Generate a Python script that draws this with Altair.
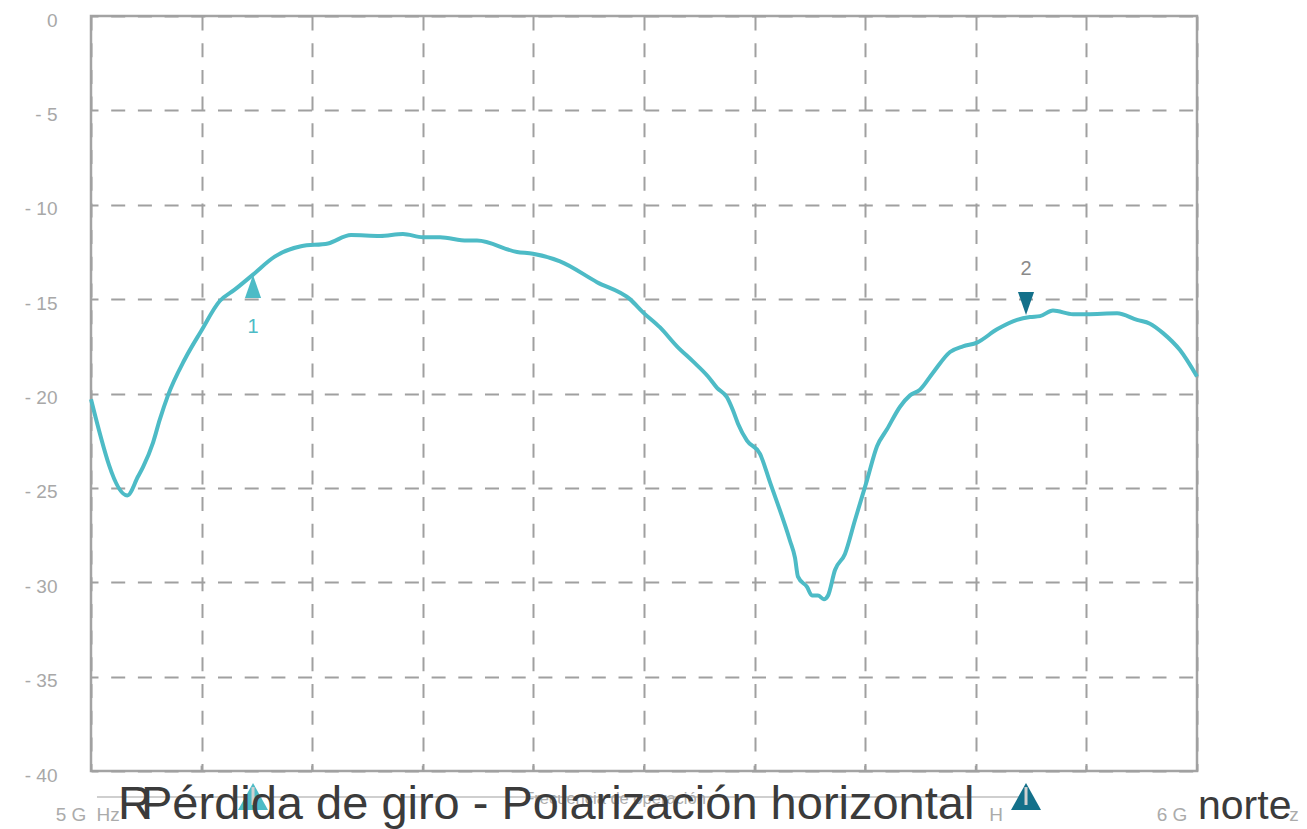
import altair as alt
import pandas as pd

# ---- main trace (GHz, dB) ----
freq = [5.0000, 5.0328, 5.0425, 5.0470, 5.0561, 5.0621, 5.0696, 5.0847, 5.0995, 5.1164,
        5.1299, 5.1465, 5.1661, 5.1899, 5.2143, 5.2351, 5.2613, 5.2821, 5.3002, 5.3156,
        5.3400, 5.3490, 5.3852, 5.3996, 5.4241, 5.4575, 5.4873, 5.4991, 5.5145, 5.5298,
        5.5443, 5.5579, 5.5660, 5.5750, 5.5805, 5.5850, 5.5931, 5.6049, 5.6139, 5.6320,
        5.6365, 5.6392, 5.6474, 5.6519, 5.6573, 5.6627, 5.6664, 5.6727, 5.6817, 5.6908,
        5.7016, 5.7107, 5.7197, 5.7315, 5.7405, 5.7495, 5.7613, 5.7767, 5.7884, 5.8011,
        5.8192, 5.8373, 5.8490, 5.8580, 5.8698, 5.8879, 5.9005, 5.9277, 5.9458, 5.9575,
        5.9693, 5.9846, 6.0000]
return_loss = [-20.3, -25.4, -24.4, -23.9, -22.6, -21.4, -20.1, -18.2, -16.7, -15.1,
               -14.5, -13.7, -12.75, -12.2, -12.05, -11.6, -11.65, -11.55, -11.72, -11.72,
               -11.9, -11.9, -12.5, -12.6, -13.0, -14.1, -15.0, -15.7, -16.5, -17.5,
               -18.3, -19.1, -19.7, -20.2, -20.9, -21.6, -22.5, -23.2, -24.7, -27.8,
               -28.7, -29.7, -30.25, -30.7, -30.7, -30.9, -30.7, -29.35, -28.5, -26.7,
               -24.6, -22.8, -21.9, -20.7, -20.1, -19.8, -18.9, -17.8, -17.5, -17.3,
               -16.6, -16.1, -15.95, -15.9, -15.6, -15.8, -15.8, -15.75, -16.1, -16.3,
               -16.8, -17.7, -19.1]

# ---- markers ----
marker_freq = [5.1465, 5.8454]
marker_val = [-14.33, -15.23]
marker_label = ["1", "2"]
marker_label_val = [-16.48, -13.43]

# ---- axes ----
y_ticks = [0, -5, -10, -15, -20, -25, -30, -35, -40]
x_ticks = [5.0, 5.1, 5.2, 5.3, 5.4, 5.5, 5.6, 5.7, 5.8, 5.9, 6.0]
x_inner_ticks = [5.1, 5.2, 5.3, 5.4, 5.5, 5.6, 5.7, 5.8, 5.9]

# ---- bottom strip (garbled tick labels / legend / titles) ----
tick_text = ["5 G", "Hz", "H", "6 G", "z"]
tick_text_f = [4.9819, 5.0154, 5.8183, 5.9774, 6.0877]
axis_title = "Frecuencia de operación"
axis_title_f = 5.4738
legend_line_f = [5.0054, 5.8463]
legend_f = [5.1465, 5.8454]
big_text = ["R", "Pérdida de giro - Polarización horizontal"]
big_text_f = [5.0244, 5.0452]
north_text = "norte"
north_f = 6.0009

STRIP_TEXT_Y = -42.33
STRIP_LINE_Y = -41.377
STRIP_TRI_Y = -41.27
BIG_Y = -42.54

TEAL = "#4dbbc6"
DARK = "#13708a"
GRID = "#a0a0a0"
FONT = "Liberation Sans"

xs = alt.Scale(domain=[5.0, 6.0], nice=False, zero=False)
ys = alt.Scale(domain=[-40, 0], nice=False, zero=False)

xax = alt.Axis(values=x_ticks, grid=True, gridColor=GRID, gridWidth=2, gridDash=[14, 12.7],
               labels=False, ticks=False, domain=False, title=None)
yax = alt.Axis(values=y_ticks, grid=True, gridColor=GRID, gridWidth=2, gridDash=[14, 12.7],
               gridDashOffset=7,
               labelExpr="datum.value == 0 ? '0' : '- ' + abs(datum.value)",
               labelFont=FONT, labelFontSize=19, labelColor="#a8a8a8", labelPadding=34,
               labelOffset=4, labelFlush=False,
               ticks=False, domain=False, title=None)


def X(field="f"):
    return alt.X(f"{field}:Q", scale=xs, axis=xax)


def Y(field="v"):
    return alt.Y(f"{field}:Q", scale=ys, axis=yax)


def YD(val):
    return alt.Y(datum=val, scale=ys, axis=yax, type="quantitative")


df = pd.DataFrame({"f": freq, "v": return_loss})

line = alt.Chart(df).mark_line(color=TEAL, strokeWidth=4, interpolate="monotone").encode(
    x=X(), y=Y())

inner_ticks = alt.Chart(pd.DataFrame({"f": x_inner_ticks})).mark_rule(
    color=GRID, strokeWidth=2).encode(
    x=X(), y=YD(-40), y2=alt.datum(-39.72))

mdf = pd.DataFrame({"f": marker_freq, "v": marker_val, "lab": marker_label,
                    "lv": marker_label_val})
m1 = alt.Chart(mdf.iloc[[0]]).mark_point(
    shape="M-0.7,1L0.7,1L0,-1Z", size=529, filled=True, color=TEAL, opacity=1).encode(
    x=X(), y=Y())
m2 = alt.Chart(mdf.iloc[[1]]).mark_point(
    shape="M-0.7,-1L0.7,-1L0,1Z", size=529, filled=True, color=DARK, opacity=1).encode(
    x=X(), y=Y())
l1 = alt.Chart(mdf.iloc[[0]]).mark_text(
    font=FONT, fontSize=20, color=TEAL, baseline="middle").encode(
    x=X(), y=Y("lv"), text="lab:N")
l2 = alt.Chart(mdf.iloc[[1]]).mark_text(
    font=FONT, fontSize=20, color="#8a8a8a", baseline="middle").encode(
    x=X(), y=Y("lv"), text="lab:N")

# bottom strip
strip_line = alt.Chart(pd.DataFrame({"f": [legend_line_f[0]], "f2": [legend_line_f[1]]})).mark_rule(
    color="#cfcfcf", strokeWidth=2).encode(
    x=X(), x2="f2:Q", y=YD(STRIP_LINE_Y))
ldf = pd.DataFrame({"f": legend_f, "k": ["a", "b"]})
strip_tri = alt.Chart(ldf).mark_point(
    shape="M-1,1L1,1L0,-0.8Z", size=900, filled=True, opacity=1).encode(
    x=X(), y=YD(STRIP_TRI_Y),
    color=alt.Color("k:N", scale=alt.Scale(domain=["a", "b"], range=[TEAL, DARK]), legend=None))
strip_bar = alt.Chart(ldf).mark_rule(color="#d0d0d0", strokeWidth=3).encode(
    x=X(), y=YD(-40.85), y2=alt.datum(-41.80))

tdf = pd.DataFrame({"f": tick_text_f, "t": tick_text})
strip_ticks = alt.Chart(tdf).mark_text(
    font=FONT, fontSize=19, color="#ababab", baseline="middle", align="center").encode(
    x=X(), y=YD(STRIP_TEXT_Y), text="t:N")
strip_title = alt.Chart(pd.DataFrame({"f": [axis_title_f], "t": [axis_title]})).mark_text(
    font=FONT, fontSize=16.5, color="#ababab", baseline="middle", align="center").encode(
    x=X(), y=YD(-41.48), text="t:N")
bdf = pd.DataFrame({"f": big_text_f, "t": big_text})
strip_big = alt.Chart(bdf).mark_text(
    font=FONT, fontSize=47, color="#3b3b3b", baseline="alphabetic", align="left").encode(
    x=X(), y=YD(BIG_Y), text="t:N")
strip_north = alt.Chart(pd.DataFrame({"f": [north_f], "t": [north_text]})).mark_text(
    font=FONT, fontSize=41, color="#3b3b3b", baseline="alphabetic", align="left").encode(
    x=X(), y=YD(BIG_Y), text="t:N")

chart = alt.layer(
    line, inner_ticks, m1, m2, l1, l2,
    strip_line, strip_tri, strip_bar, strip_ticks, strip_title, strip_big, strip_north,
).properties(
    width=1106, height=755,
    autosize="none",
    padding={"left": 83, "top": 8, "right": 102, "bottom": 58},
).configure_view(stroke="#a3a3a3", strokeWidth=2.5)

chart.save("out.html", embed_options={"renderer": "svg", "actions": False})
